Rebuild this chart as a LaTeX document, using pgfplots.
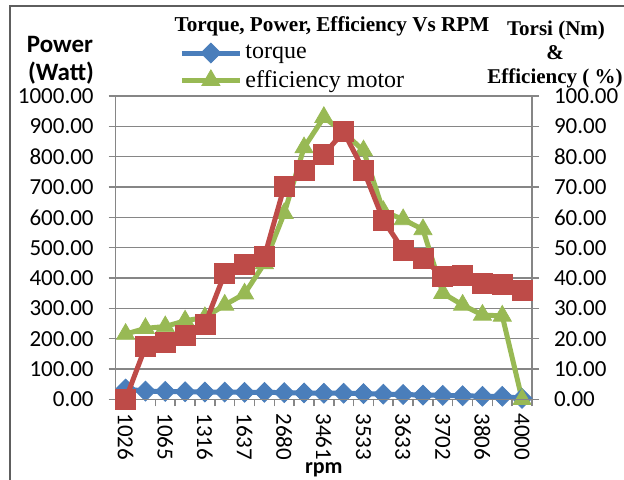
\documentclass[border=0pt]{standalone}
\usepackage{pgfplots}
\pgfplotsset{compat=1.18}
\usepackage{fontspec}
\setmainfont{Carlito}
\newfontfamily\tnr{Liberation Serif}
\definecolor{cblue}{HTML}{4A7EBB}
\definecolor{cred}{HTML}{BE4B48}
\definecolor{cgreen}{HTML}{98B954}
\definecolor{cgrid}{HTML}{868686}

\pgfplotstableread{
idx torque power eff
0  3.4 0   21.5
1  2.7 173 23.4
2  2.6 188 24.0
3  2.5 212 25.9
4  2.4 247 27.0
5  2.4 415 31.1
6  2.3 446 34.8
7  2.3 470 44.8
8  2.2 701 61.3
9  2.1 755 83.0
10 2.0 808 93.0
11 2.0 882 88.0
12 1.9 756 82.0
13 1.7 591 62.0
14 1.6 492 59.3
15 1.4 465 56.0
16 1.3 404 35.0
17 1.2 410 31.1
18 1.0 382 27.8
19 1.0 378 27.5
20 0.3 360 0
}\datatable

\begin{document}
\begin{tikzpicture}
\useasboundingbox (0,0) rectangle (312pt,239.5pt);
\draw[color=cgrid!70!black, line width=0.6pt] (5pt,-5pt) -- (5pt,236.5pt) -- (320pt,236.5pt);

% secondary (right) axis: torque & efficiency, with grid
\begin{axis}[
  at={(57.85pt,39.85pt)}, anchor=south west,
  scale only axis, width=208.15pt, height=151.65pt,
  xmin=-0.5, xmax=20.5, ymin=0, ymax=100,
  hide x axis,
  axis y line*=right,
  ytick={0,10,...,100},
  ymajorgrids,
  grid style={cgrid, line width=0.75pt},
  axis line style={cgrid, line width=0.75pt},
  tick style={cgrid, line width=0.75pt},
  tick align=outside, major tick length=3.5pt,
  /pgf/number format/assume math mode=true,
  /pgf/number format/.cd, fixed, fixed zerofill, precision=2, 1000 sep={},
  /pgfplots/.cd,
  yticklabel style={font=\fontsize{11.5}{13}\selectfont, xshift=4pt},
  legend style={draw=none, fill=none, at={(axis description cs:0.152,1.094)}, anchor=west,
    font=\tnr\fontsize{12}{14}\selectfont, row sep=1.5pt, inner sep=0pt,
    nodes={inner sep=1.5pt}},
  legend cell align=left,
  legend image code/.code={\draw[mark repeat=2,mark phase=2,#1] plot coordinates {(0pt,0pt) (14.5pt,0pt) (29pt,0pt)};},
  clip=false,
]
\addplot[cblue, line width=2.5pt, mark=square*, mark size=3.5pt,
  mark options={rotate=45, line width=0.4pt, fill=cblue, draw=cblue}]
  table[x=idx, y=torque] {\datatable};
\addlegendentry{torque}
\addplot[cgreen, line width=2.5pt, mark=triangle*, mark size=5.2pt,
  mark options={line width=0.4pt, fill=cgreen, draw=cgreen}]
  table[x=idx, y=eff] {\datatable};
\addlegendentry{efficiency motor}
\end{axis}

% primary (left) axis: power
\begin{axis}[
  at={(57.85pt,39.85pt)}, anchor=south west,
  scale only axis, width=208.15pt, height=151.65pt,
  xmin=-0.5, xmax=20.5, ymin=0, ymax=1000,
  axis y line*=left, axis x line*=bottom,
  ytick={0,100,...,1000},
  xtick={-0.5,0.5,...,20.5}, xticklabels={},
  extra x ticks={0,2,...,20},
  extra x tick labels={1026,1065,1316,1637,2680,3461,3533,3633,3702,3806,4000},
  extra x tick style={major tick length=0pt,
    tick label style={rotate=-90, anchor=west, font=\fontsize{11.5}{13}\selectfont, xshift=3.5pt}},
  axis line style={cgrid, line width=0.75pt},
  tick style={cgrid, line width=0.75pt},
  tick align=outside, major tick length=3.5pt,
  /pgf/number format/assume math mode=true,
  /pgf/number format/.cd, fixed, fixed zerofill, precision=2, 1000 sep={},
  /pgfplots/.cd,
  yticklabel style={font=\fontsize{11.5}{13}\selectfont, xshift=-4pt},
  xlabel={\bfseries rpm},
  xlabel style={at={(axis description cs:0.5,0)}, anchor=base, yshift=-37.2pt,
    font=\fontsize{11}{13}\selectfont},
  clip=false,
]
\addplot[cred, line width=2.5pt, mark=square*, mark size=5pt,
  mark options={line width=0.4pt, fill=cred, draw=cred}]
  table[x=idx, y=power] {\datatable};
\end{axis}

\node[anchor=base, font=\tnr\bfseries\fontsize{10.6}{12}\selectfont] at (166pt,224pt)
  {Torque, Power, Efficiency Vs RPM};
\node[anchor=base, font=\bfseries\fontsize{12.5}{14}\selectfont] at (30pt,213.5pt) {Power};
\node[anchor=base, font=\bfseries\fontsize{12.5}{14}\selectfont] at (30.5pt,199.5pt) {(Watt)};
\node[anchor=base, font=\tnr\bfseries\fontsize{10.5}{12}\selectfont] at (278pt,222pt) {Torsi (Nm)};
\node[anchor=base, font=\tnr\bfseries\fontsize{10.5}{12}\selectfont] at (277.5pt,210pt) {\&};
\node[anchor=base, font=\tnr\bfseries\fontsize{10.5}{12}\selectfont] at (277.5pt,197.8pt) {Efficiency ( \%)};
\end{tikzpicture}
\end{document}
